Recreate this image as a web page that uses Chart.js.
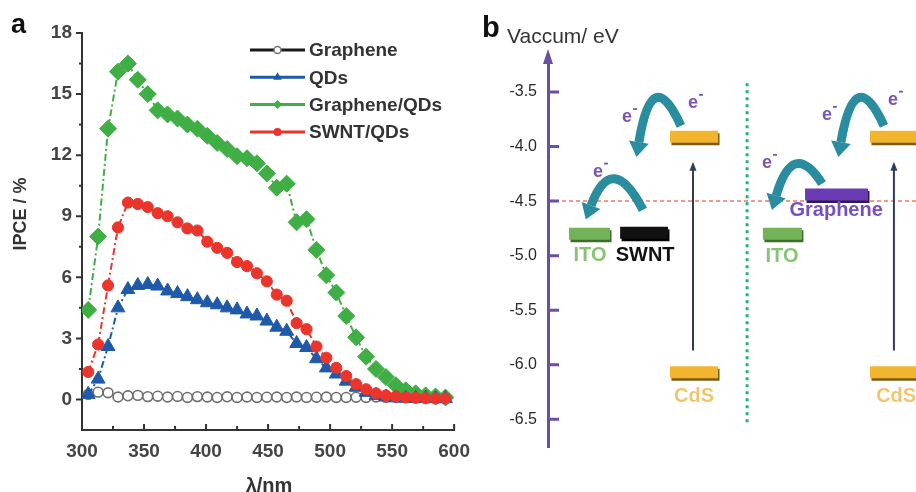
<!DOCTYPE html>
<html>
<head>
<meta charset="utf-8">
<script src="https://cdn.jsdelivr.net/npm/chart.js@4.4.1/dist/chart.umd.min.js"></script>
<style>
  html, body { margin: 0; padding: 0; background: #fff; }
  #wrap { position: relative; width: 916px; height: 492px; overflow: hidden; }
  #panelA { position: absolute; left: 0; top: 0; }
  #panelB { position: absolute; left: 480px; top: 0; }
</style>
</head>
<body>
<div id="wrap">
  <canvas id="panelA" width="480" height="492"></canvas>
  <canvas id="panelB" width="436" height="492"></canvas>
</div>
<script>
// ---- panel a: IPCE spectra ----
const wavelengths = [305, 313, 321, 329, 337, 345, 353, 361, 369, 377, 385, 393, 401, 409, 417, 425, 433, 441, 449,
  457, 465, 473, 481, 489, 497, 505, 513, 521, 529, 537, 545, 553, 561, 569, 577, 585, 593];
const graphene = [0.25, 0.36, 0.33, 0.12, 0.18, 0.2, 0.14, 0.16, 0.12, 0.15, 0.1, 0.14, 0.12, 0.1, 0.13, 0.1, 0.12, 0.1, 0.11,
  0.12, 0.1, 0.12, 0.1, 0.11, 0.12, 0.1, 0.1, 0.11, 0.1, 0.12, 0.1, 0.1, 0.1, 0.1, 0.1, 0.1, 0.1];
const qds = [0.25, 1.0, 2.6, 4.5, 5.4, 5.6, 5.65, 5.57, 5.33, 5.2, 5.05, 4.9, 4.75, 4.65, 4.5, 4.4, 4.2, 4.1, 3.85,
  3.55, 3.35, 2.75, 2.55, 2.0, 1.55, 1.25, 0.9, 0.6, 0.35, 0.2, 0.12, 0.08, 0.06, 0.05, 0.05, 0.04, 0.04];
const grapheneQds = [4.4, 8.0, 13.3, 16.1, 16.5, 15.7, 15.0, 14.2, 14.0, 13.8, 13.5, 13.3, 12.95, 12.6, 12.3, 11.95, 11.85, 11.6, 11.1,
  10.4, 10.6, 8.7, 8.85, 7.35, 6.1, 5.25, 4.1, 3.05, 2.1, 1.5, 1.1, 0.7, 0.45, 0.3, 0.2, 0.15, 0.1];
const swntQds = [1.35, 2.7, 5.6, 8.45, 9.67, 9.6, 9.45, 9.15, 9.0, 8.7, 8.4, 8.3, 7.75, 7.45, 7.2, 6.75, 6.55, 6.2, 5.8,
  5.15, 4.85, 3.75, 3.45, 2.6, 2.05, 1.55, 1.15, 0.75, 0.5, 0.3, 0.2, 0.15, 0.1, 0.08, 0.06, 0.05, 0.05];
const ipceTicks = [0, 3, 6, 9, 12, 15, 18];
const lambdaTicks = [300, 350, 400, 450, 500, 550, 600];

// ---- panel b: energy levels (eV vs vacuum) ----
const energyTicks = [-3.5, -4.0, -4.5, -5.0, -5.5, -6.0, -6.5];
const levelNames = ['ITO', 'SWNT', 'CdS CB', 'CdS VB', 'ITO', 'Graphene', 'CdS CB', 'CdS VB'];
const levelEnergies = [-4.80, -4.79, -3.91, -6.07, -4.80, -4.44, -3.91, -6.07];
const fermiLevel = -4.5;

const FONT = 'Arial, "Liberation Sans", sans-serif';
const GREEN = '#3fae45', BLUE = '#1f5aa8', RED = '#e9352c';

function toXY(values) {
  return wavelengths.map((x, i) => ({ x, y: values[i] }));
}

function series(label, values, color, style, radius, order) {
  return {
    label, order,
    data: toXY(values),
    borderColor: color, borderWidth: 2, borderDash: [7, 3, 2, 3],
    pointStyle: style, pointRadius: radius,
    pointBackgroundColor: color, pointBorderColor: color, pointBorderWidth: 1
  };
}

// small marker for the hand-drawn legend
function marker(ctx, style, x, y, r) {
  ctx.beginPath();
  if (style === 'triangle') {
    ctx.moveTo(x, y - r);
    ctx.lineTo(x + r * 0.866, y + r * 0.5);
    ctx.lineTo(x - r * 0.866, y + r * 0.5);
    ctx.closePath();
  } else if (style === 'diamond') {
    ctx.moveTo(x, y - r); ctx.lineTo(x + r, y); ctx.lineTo(x, y + r); ctx.lineTo(x - r, y);
    ctx.closePath();
  } else {
    ctx.arc(x, y, r, 0, Math.PI * 2);
  }
}

const legendA = [
  { text: 'Graphene', line: '#1a1a1a', style: 'circle', fill: '#fff', stroke: '#777', r: 3.5 },
  { text: 'QDs', line: BLUE, style: 'triangle', fill: BLUE, r: 5 },
  { text: 'Graphene/QDs', line: GREEN, style: 'diamond', fill: GREEN, r: 4.5 },
  { text: 'SWNT/QDs', line: RED, style: 'circle', fill: RED, r: 4 }
];

// axis ticks (y outward, x inward), titles, legend and panel letter
const decorA = {
  id: 'decorA',
  afterDraw(chart) {
    const { ctx, scales: { x, y }, chartArea: a } = chart;
    ctx.save();
    ctx.strokeStyle = '#333';
    ctx.lineWidth = 2;
    ctx.beginPath();
    ipceTicks.forEach(v => {
      const py = y.getPixelForValue(v);
      ctx.moveTo(a.left, py); ctx.lineTo(a.left - 6, py);
      if (v < 18) {
        const pm = y.getPixelForValue(v + 1.5);
        ctx.moveTo(a.left, pm); ctx.lineTo(a.left - 3, pm);
      }
    });
    lambdaTicks.forEach(v => {
      const px = x.getPixelForValue(v);
      ctx.moveTo(px, a.bottom); ctx.lineTo(px, a.bottom - 6);
      if (v < 600) {
        const pm = x.getPixelForValue(v + 25);
        ctx.moveTo(pm, a.bottom); ctx.lineTo(pm, a.bottom - 4);
      }
    });
    ctx.stroke();

    // legend
    legendA.forEach((it, i) => {
      const ly = 50 + i * 27.3;
      ctx.strokeStyle = it.line;
      ctx.lineWidth = 3;
      ctx.beginPath(); ctx.moveTo(250, ly); ctx.lineTo(305, ly); ctx.stroke();
      marker(ctx, it.style, 277.5, ly, it.r);
      ctx.fillStyle = it.fill; ctx.fill();
      if (it.stroke) { ctx.strokeStyle = it.stroke; ctx.lineWidth = 1.5; ctx.stroke(); }
      ctx.fillStyle = '#333';
      ctx.font = 'bold 19px ' + FONT;
      ctx.textAlign = 'left'; ctx.textBaseline = 'middle';
      ctx.fillText(it.text, 309, ly + 1);
    });

    // titles
    ctx.fillStyle = '#333';
    ctx.font = 'bold 18px ' + FONT;
    ctx.textAlign = 'center'; ctx.textBaseline = 'middle';
    ctx.save();
    ctx.translate(21, 214); ctx.rotate(-Math.PI / 2);
    ctx.fillText('IPCE / %', 0, 0);
    ctx.restore();
    ctx.font = 'bold 20px ' + FONT;
    ctx.textBaseline = 'alphabetic';
    ctx.fillText('\u03bb/nm', 269, 492);
    ctx.fillStyle = '#111';
    ctx.font = 'bold 27px ' + FONT;
    ctx.textAlign = 'left';
    ctx.fillText('a', 11, 33);
    ctx.restore();
  }
};

const chartA = new Chart(document.getElementById('panelA'), {
  type: 'line',
  data: {
    datasets: [
      series('SWNT/QDs', swntQds, RED, 'circle', 5.6, 1),
      series('QDs', qds, BLUE, 'triangle', 8, 2),
      series('Graphene/QDs', grapheneQds, GREEN, 'rectRot', 8.5, 3),
      {
        label: 'Graphene', order: 4, data: toXY(graphene),
        borderColor: '#666', borderWidth: 1,
        pointStyle: 'circle', pointRadius: 4.9,
        pointBackgroundColor: '#fff', pointBorderColor: '#6d6d6d', pointBorderWidth: 1.6
      }
    ]
  },
  options: {
    responsive: false,
    animation: false,
    layout: { padding: { left: 0, right: 21, top: 33, bottom: 0 } },
    plugins: { legend: { display: false }, tooltip: { enabled: false } },
    scales: {
      x: {
        type: 'linear', min: 300, max: 600,
        afterBuildTicks: s => { s.ticks = lambdaTicks.map(v => ({ value: v })); },
        afterFit: s => { s.height = 62; },
        grid: { display: false, drawTicks: false },
        border: { display: true, color: '#333', width: 2 },
        ticks: { padding: 10, color: '#444', maxRotation: 0, font: { family: FONT, size: 19, weight: 'bold' } }
      },
      y: {
        min: -1.5, max: 18,
        afterBuildTicks: s => { s.ticks = ipceTicks.map(v => ({ value: v })); },
        afterFit: s => { s.width = 82; },
        grid: { display: false, drawTicks: false },
        border: { display: true, color: '#333', width: 2 },
        ticks: { padding: 10, color: '#444', font: { family: FONT, size: 19, weight: 'bold' } }
      }
    }
  },
  plugins: [decorA]
});

// ---- panel b layout (schematic positions, in x-units of 0..100) ----
const levelSpans = [[5.7, 16.85], [19.6, 32.6], [33.15, 46.2], [33.15, 46.2], [58.4, 69.0], [69.85, 86.95], [87.5, 104], [87.5, 104]];
const levelColors = ['#74b257', '#111111', '#f2b52e', '#f2b52e', '#74b257', '#6a3bb2', '#f2b52e', '#f2b52e'];
const levelShadows = ['#3f6e2c', '#000000', '#7a5a16', '#7a5a16', '#3f6e2c', '#2e1a55', '#7a5a16', '#7a5a16'];
const excitations = [{ x: 39.4, from: -5.87, to: -4.14 }, { x: 94.0, from: -5.87, to: -4.14 }];
const transfers = [
  { from: [36.1, -3.81], via: [28.3, -3.22], to: [24.7, -3.96] },
  { from: [25.8, -4.58], via: [17.4, -4.03], to: [11.7, -4.54] },
  { from: [91.3, -3.81], via: [83.4, -3.22], to: [79.6, -3.96] },
  { from: [74.5, -4.34], via: [66.6, -3.92], to: [62.0, -4.45] }
];
const electrons = [[21.5, -3.73], [39.4, -3.60], [13.6, -4.23], [75.8, -3.71], [93.75, -3.57], [59.5, -4.15]];
const levelLabels = [
  { text: 'ITO', x: 11.4, y: -5.0, color: '#86c673' },
  { text: 'SWNT', x: 26.4, y: -4.995, color: '#111' },
  { text: 'CdS', x: 39.7, y: -6.29, color: '#f3c46e' },
  { text: 'Graphene', x: 78.3, y: -4.59, color: '#7750bf' },
  { text: 'ITO', x: 63.6, y: -5.01, color: '#86c673' },
  { text: 'CdS', x: 94.6, y: -6.29, color: '#f3c46e' }
];

const levelSets = levelNames.map((name, i) => ({
  label: name, order: 0, isLevel: true, shadow: levelShadows[i],
  data: [{ x: levelSpans[i][0], y: levelEnergies[i] }, { x: levelSpans[i][1], y: levelEnergies[i] }],
  borderColor: levelColors[i], borderWidth: 12, borderCapStyle: 'butt', pointRadius: 0
}));

const decorB = {
  id: 'decorB',
  beforeDatasetDraw(chart, args) {
    const ds = chart.data.datasets[args.index];
    chart.ctx.save();
    if (ds.isLevel) {
      chart.ctx.shadowColor = ds.shadow;
      chart.ctx.shadowOffsetX = 1.5;
      chart.ctx.shadowOffsetY = 2.5;
      chart.ctx.shadowBlur = 0;
    }
  },
  afterDatasetDraw(chart) {
    chart.ctx.restore();
  },
  afterDraw(chart) {
    const { ctx, scales: { x, y }, chartArea: a } = chart;
    const P = (u, e) => ({ x: x.getPixelForValue(u), y: y.getPixelForValue(e) });
    ctx.save();
    // axis arrow head + inward ticks
    ctx.fillStyle = '#6b4fa3';
    ctx.beginPath();
    ctx.moveTo(a.left, a.top - 6); ctx.lineTo(a.left + 5, a.top + 9); ctx.lineTo(a.left - 5, a.top + 9);
    ctx.closePath(); ctx.fill();
    ctx.strokeStyle = '#6b4fa3'; ctx.lineWidth = 3;
    ctx.beginPath();
    energyTicks.forEach(v => {
      const py = y.getPixelForValue(v);
      ctx.moveTo(a.left, py); ctx.lineTo(a.left + 11, py);
    });
    ctx.stroke();

    // excitation arrows
    ctx.strokeStyle = '#2f3d5a'; ctx.fillStyle = '#2f3d5a'; ctx.lineWidth = 2;
    excitations.forEach(e => {
      const p0 = P(e.x, e.from), p1 = P(e.x, e.to);
      ctx.beginPath(); ctx.moveTo(p0.x, p0.y); ctx.lineTo(p1.x, p1.y + 6); ctx.stroke();
      ctx.beginPath(); ctx.moveTo(p1.x, p1.y); ctx.lineTo(p1.x + 3.5, p1.y + 9); ctx.lineTo(p1.x - 3.5, p1.y + 9);
      ctx.closePath(); ctx.fill();
    });

    // electron transfer arrows
    ctx.strokeStyle = '#2a8c9f'; ctx.fillStyle = '#2a8c9f';
    transfers.forEach(t => {
      const p0 = P(...t.from), c = P(...t.via), p1 = P(...t.to);
      ctx.lineWidth = 9; ctx.lineCap = 'butt';
      ctx.beginPath(); ctx.moveTo(p0.x, p0.y); ctx.quadraticCurveTo(c.x, c.y, p1.x, p1.y); ctx.stroke();
      const ang = Math.atan2(p1.y - c.y, p1.x - c.x);
      const L = 15, W = 10;
      ctx.beginPath();
      ctx.moveTo(p1.x + Math.cos(ang) * L, p1.y + Math.sin(ang) * L);
      ctx.lineTo(p1.x - Math.sin(ang) * W, p1.y + Math.cos(ang) * W);
      ctx.lineTo(p1.x + Math.sin(ang) * W, p1.y - Math.cos(ang) * W);
      ctx.closePath(); ctx.fill();
    });

    // e- labels
    ctx.fillStyle = '#7a55b5';
    ctx.textAlign = 'center'; ctx.textBaseline = 'middle';
    electrons.forEach(([u, e]) => {
      const p = P(u, e);
      ctx.font = 'bold 18px ' + FONT;
      ctx.fillText('e', p.x, p.y);
      ctx.fillRect(p.x + 6, p.y - 9, 4, 1.8);
    });

    // level labels
    ctx.font = 'bold 20px ' + FONT;
    levelLabels.forEach(l => {
      const p = P(l.x, l.y);
      ctx.fillStyle = l.color;
      ctx.fillText(l.text, p.x, p.y);
    });

    // panel letter and axis title
    ctx.textAlign = 'left'; ctx.textBaseline = 'alphabetic';
    ctx.fillStyle = '#111';
    ctx.font = 'bold 29px ' + FONT;
    ctx.fillText('b', 2, 37);
    ctx.fillStyle = '#333';
    ctx.font = '21px ' + FONT;
    ctx.fillText('Vaccum/ eV', 27, 43);
    ctx.restore();
  }
};

const chartB = new Chart(document.getElementById('panelB'), {
  type: 'line',
  data: {
    datasets: [
      {
        label: 'Fermi', order: 5,
        data: [{ x: 0, y: fermiLevel }, { x: 100, y: fermiLevel }],
        borderColor: '#f49a86', borderWidth: 2, borderDash: [4, 3], pointRadius: 0
      },
      {
        label: 'divider', order: 5,
        data: [{ x: 54.1, y: -3.42 }, { x: 54.1, y: -6.53 }],
        borderColor: '#22b07c', borderWidth: 3, borderDash: [3, 4], pointRadius: 0
      },
      ...levelSets
    ]
  },
  options: {
    responsive: false,
    animation: false,
    layout: { padding: { left: 0, right: 0, top: 55, bottom: 45 } },
    plugins: { legend: { display: false }, tooltip: { enabled: false } },
    scales: {
      x: { type: 'linear', min: 0, max: 100, display: false },
      y: {
        min: -6.755, max: -3.16,
        afterBuildTicks: s => { s.ticks = energyTicks.map(v => ({ value: v })); },
        afterFit: s => { s.width = 68; },
        grid: { display: false, drawTicks: false },
        border: { display: true, color: '#6b4fa3', width: 3 },
        ticks: { padding: 11, color: '#2a2a2a', callback: v => v.toFixed(1), font: { family: FONT, size: 16 } }
      }
    }
  },
  plugins: [decorB]
});
</script>
</body>
</html>
